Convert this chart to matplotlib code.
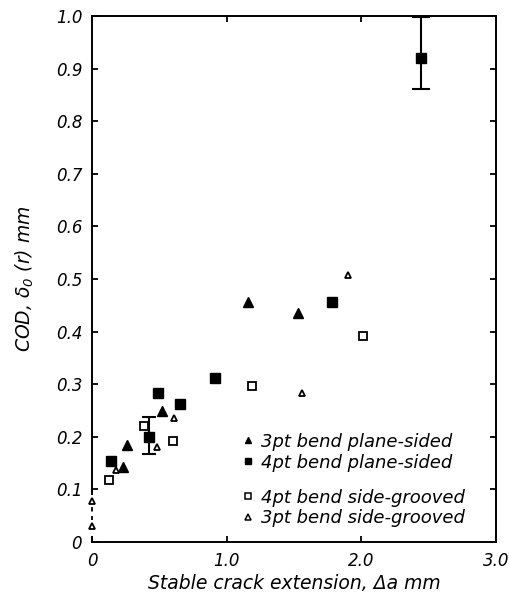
import matplotlib
matplotlib.use("Agg")
import matplotlib.pyplot as plt
from matplotlib.lines import Line2D

# 3pt bend plane-sided (filled triangles)
tri_f_x = [0.23, 0.26, 0.52, 1.16, 1.53]
tri_f_y = [0.143, 0.185, 0.25, 0.457, 0.436]

# 4pt bend plane-sided (filled squares)
sq_f_x = [0.14, 0.42, 0.49, 0.65, 0.91, 1.78, 2.44]
sq_f_y = [0.154, 0.20, 0.284, 0.263, 0.312, 0.457, 0.92]
# error bars on 4pt plane-sided points (x, y, low, high)
err_x = [0.42, 2.44]
err_y = [0.20, 0.92]
err_lo = [0.168, 0.861]
err_hi = [0.238, 0.998]

# 4pt bend side-grooved (open squares)
sq_o_x = [0.126, 0.385, 0.60, 1.19, 2.01]
sq_o_y = [0.118, 0.221, 0.192, 0.297, 0.392]

# 3pt bend side-grooved (open triangles)
tri_o_x = [0.0, 0.0, 0.18, 0.48, 0.61, 1.56, 1.90]
tri_o_y = [0.078, 0.03, 0.136, 0.181, 0.236, 0.284, 0.507]

x_ticks = [0, 1.0, 2.0, 3.0]
x_ticklabels = ["0", "1.0", "2.0", "3.0"]
y_ticks = [0, 0.1, 0.2, 0.3, 0.4, 0.5, 0.6, 0.7, 0.8, 0.9, 1.0]
y_ticklabels = ["0", "0.1", "0.2", "0.3", "0.4", "0.5", "0.6", "0.7", "0.8", "0.9", "1.0"]

labels = ["3pt bend plane-sided", "4pt bend plane-sided",
          "4pt bend side-grooved", "3pt bend side-grooved"]

plt.rcParams['font.family'] = ['DejaVu Sans']
plt.rcParams['font.style'] = 'italic'
plt.rcParams['mathtext.default'] = 'regular'

fig = plt.figure(figsize=(5.1, 6), dpi=100)
ax = fig.add_axes([92/510, 58/600, 404/510, 526/600])

k = 'black'
ax.plot(tri_f_x, tri_f_y, linestyle='none', marker='^', ms=7, mfc=k, mec=k, mew=1.0)
ax.plot(sq_f_x, sq_f_y, linestyle='none', marker='s', ms=6.5, mfc=k, mec=k, mew=1.0)
ax.plot(sq_o_x, sq_o_y, linestyle='none', marker='s', ms=5.5, mfc='white', mec=k, mew=1.3)
ax.plot(tri_o_x, tri_o_y, linestyle='none', marker='^', ms=5, mfc='white', mec=k, mew=1.3,
        clip_on=False, zorder=5)

# error bars
for i in range(len(err_x)):
    ax.errorbar([err_x[i]], [err_y[i]],
                yerr=[[err_y[i] - err_lo[i]], [err_hi[i] - err_y[i]]],
                fmt='none', ecolor=k, elinewidth=1.5, capsize=5 if i == 0 else 6.5,
                capthick=1.5, clip_on=False)

ax.set_xlim(0, 3.0)
ax.set_ylim(0, 1.0)

# left spine broken near the origin, replaced by a dashed link
ax.spines['left'].set_bounds(0.092, 1.0)
ax.plot([0, 0], [0, 0.012], color=k, linewidth=1.4, clip_on=False, solid_capstyle='butt')
ax.plot([tri_o_x[0], tri_o_x[1]], [tri_o_y[0] - 0.012, tri_o_y[1] + 0.012],
        color=k, linestyle=(0, (2.5, 2.5)), linewidth=1.3, clip_on=False)

ax.set_xticks(x_ticks)
ax.set_xticklabels(x_ticklabels)
ax.set_yticks(y_ticks)
ax.set_yticklabels(y_ticklabels)
ax.tick_params(direction='in', length=4, width=1.3, top=True, right=True,
               labelsize=12, pad=7)
for s in ax.spines.values():
    s.set_linewidth(1.4)

ax.set_xlabel("Stable crack extension, Δa mm", fontsize=13.5, labelpad=3)
ax.set_ylabel("COD, δ$_{0}$ (r) mm", fontsize=13.5, labelpad=14)

# legend (two groups, as in the original)
handles = [
    Line2D([], [], linestyle='none', marker='^', ms=4.5, mfc=k, mec=k),
    Line2D([], [], linestyle='none', marker='s', ms=4.5, mfc=k, mec=k),
    Line2D([], [], linestyle='none', marker='s', ms=4, mfc='white', mec=k, mew=1.1),
    Line2D([], [], linestyle='none', marker='^', ms=4, mfc='white', mec=k, mew=1.1),
]
leg1 = ax.legend(handles[:2], labels[:2], loc='lower left', bbox_to_anchor=(0.368, 0.134),
                 frameon=False, fontsize=13, handlelength=0.8, handletextpad=0.35,
                 labelspacing=0.15, borderaxespad=0, borderpad=0)
ax.add_artist(leg1)
leg2 = ax.legend(handles[2:], labels[2:], loc='lower left', bbox_to_anchor=(0.368, 0.028),
                 frameon=False, fontsize=13, handlelength=0.8, handletextpad=0.35,
                 labelspacing=0.15, borderaxespad=0, borderpad=0)

fig.savefig("out.png", dpi=100)
